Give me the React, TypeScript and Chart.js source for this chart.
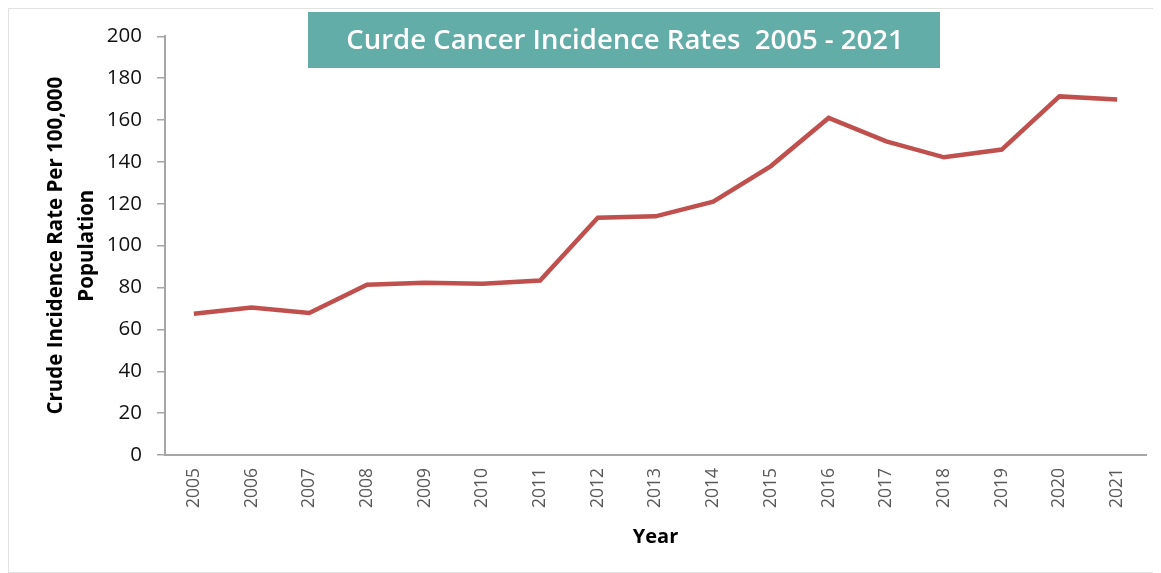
import React, { useEffect, useRef } from "react";
import { Chart, registerables } from "chart.js";

Chart.register(...registerables);

const years: string[] = [
  "2005", "2006", "2007", "2008", "2009", "2010", "2011", "2012", "2013",
  "2014", "2015", "2016", "2017", "2018", "2019", "2020", "2021",
];

const incidenceRates: number[] = [
  67.5, 70.5, 67.8, 81.3, 82.3, 81.8, 83.3, 113.3, 114.0,
  121.0, 138.0, 161.0, 149.8, 142.2, 145.9, 171.3, 169.8,
];

const chartTitle = "Curde Cancer Incidence Rates  2005 - 2021";
const yAxisTitle: string[] = ["Crude Incidence Rate Per 100,000", "Population"];
const xAxisTitle = "Year";

const FONT = "'Open Sans', 'Noto Sans', sans-serif";

const titleBoxPlugin = {
  id: "titleBox",
  afterDraw(chart: any) {
    const ctx = chart.ctx as CanvasRenderingContext2D;
    ctx.save();
    const x0 = 299;
    const y0 = 3;
    const w = 632;
    const h = 56;
    ctx.fillStyle = "#62ADA7";
    ctx.fillRect(x0, y0, w, h);
    ctx.fillStyle = "#ffffff";
    ctx.font = `600 27.5px ${FONT}`;
    ctx.textAlign = "center";
    ctx.textBaseline = "middle";
    ctx.fillText(chartTitle, x0 + w / 2 + 1, y0 + h / 2 + 1);
    ctx.restore();
  },
};

export default function App() {
  const canvasRef = useRef<HTMLCanvasElement | null>(null);

  useEffect(() => {
    if (!canvasRef.current) return;
    const chart = new Chart(canvasRef.current, {
      type: "line",
      data: {
        labels: years,
        datasets: [
          {
            label: "Crude Incidence Rate",
            data: incidenceRates,
            borderColor: "#C0504D",
            backgroundColor: "#C0504D",
            borderWidth: 4.5,
            pointRadius: 0,
            pointHoverRadius: 0,
            tension: 0,
            fill: false,
          },
        ],
      },
      options: {
        animation: false,
        responsive: true,
        maintainAspectRatio: false,
        layout: { padding: { top: 25, right: 7, left: 0, bottom: 0 } },
        plugins: {
          legend: { display: false },
          tooltip: { enabled: false },
          title: { display: false },
        },
        scales: {
          x: {
            type: "category",
            offset: true,
            grid: { display: false, drawTicks: false },
            border: { display: true, color: "#a6a6a6", width: 2 },
            ticks: {
              minRotation: 90,
              maxRotation: 90,
              autoSkip: false,
              padding: 13,
              color: "#595959",
              font: { family: FONT, size: 17.5 },
            },
            title: {
              display: true,
              text: xAxisTitle,
              color: "#000000",
              font: { family: FONT, size: 20, weight: "bold" },
              padding: { top: 0, bottom: 23 },
            },
            afterFit: (scale: any) => {
              scale.height = 117;
            },
          },
          y: {
            min: 0,
            max: 200,
            grid: {
              display: true,
              drawOnChartArea: false,
              drawTicks: true,
              tickLength: 8,
              color: "#a6a6a6",
              lineWidth: 1.5,
            },
            border: { display: true, color: "#a6a6a6", width: 2 },
            ticks: {
              stepSize: 20,
              padding: 15,
              color: "#111111",
              font: { family: FONT, size: 20.5 },
            },
            title: {
              display: true,
              text: yAxisTitle,
              color: "#000000",
              font: { family: FONT, size: 20.5, weight: "bold", lineHeight: 1.5 },
              padding: { top: 32, bottom: 0 },
            },
            afterFit: (scale: any) => {
              scale.width = 156;
            },
          },
        },
      },
      plugins: [titleBoxPlugin],
    });
    return () => chart.destroy();
  }, []);

  return (
    <div
      style={{
        position: "relative",
        width: 1145,
        height: 565,
        boxSizing: "border-box",
        borderTop: "1px solid #e2e2e2",
        borderLeft: "1px solid #e2e2e2",
        borderBottom: "1px solid #e2e2e2",
        background: "#ffffff",
      }}
    >
      <canvas ref={canvasRef} />
    </div>
  );
}
